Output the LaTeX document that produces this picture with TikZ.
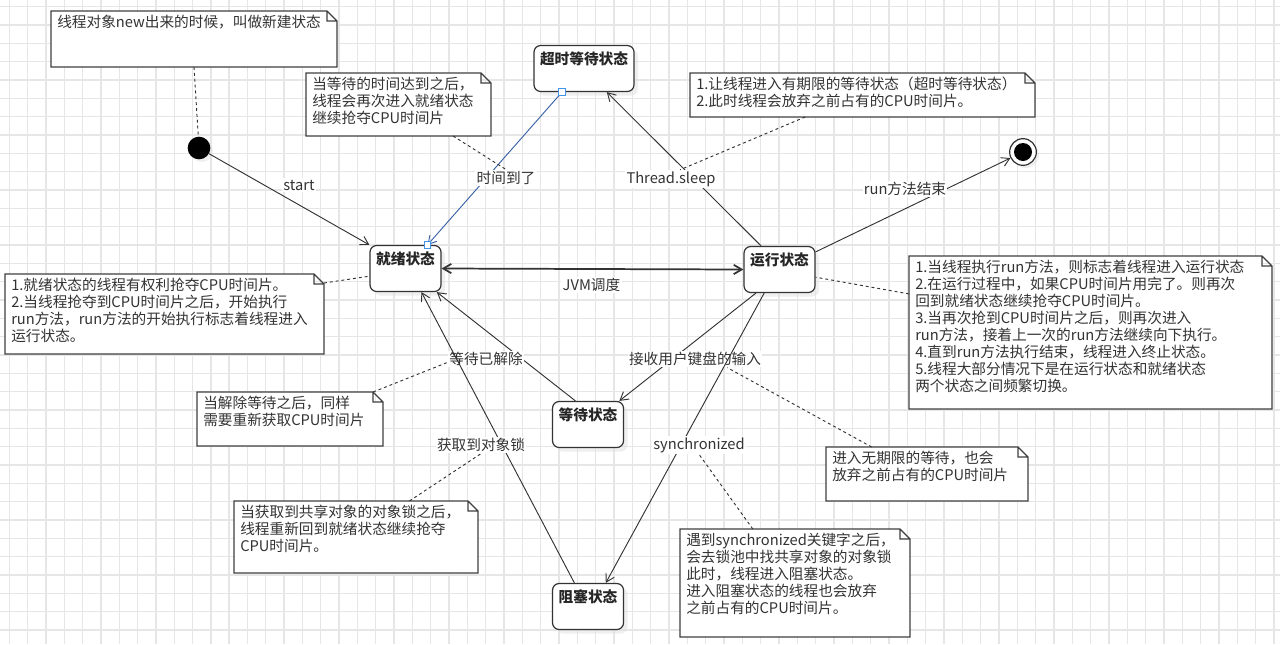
\documentclass[tikz,border=0pt]{standalone}
\usepackage{fontspec}
\setmainfont{Noto Sans CJK SC}
\usetikzlibrary{arrows.meta,fit,backgrounds,shadows}

\definecolor{gridgray}{RGB}{230,230,230}
\definecolor{linegray}{RGB}{51,51,51}
\definecolor{pickblue}{RGB}{58,98,168}
\definecolor{handleblue}{RGB}{66,148,235}

\tikzset{
  gridline/.style={draw=gridgray, line width=1pt},
  state/.style={draw=linegray, line width=0.9pt, rounded corners=5pt, fill=white, text=black!85,
    minimum width=53.25pt, inner sep=3pt, text height=11.25pt, text depth=17.25pt,
    font=\fontsize{11}{13}\selectfont\bfseries,
    drop shadow={shadow xshift=3pt, shadow yshift=-3pt, fill=black!12}},
  startstate/.style={circle, fill=black, minimum size=17pt, inner sep=0pt,
    drop shadow={shadow xshift=2pt, shadow yshift=-2pt, fill=black!12}},
  endstate/.style={circle, draw=linegray, line width=0.9pt, fill=white, minimum size=20pt, inner sep=0pt,
    drop shadow={shadow xshift=2pt, shadow yshift=-2pt, fill=black!12}},
  trans/.style={draw=linegray, line width=0.7pt, ->},
  lbl/.style={fill=white, inner sep=1pt, text=black!80, font=\fontsize{11}{12.75}\selectfont},
  notebox/.style={inner sep=0pt, outer sep=0pt},
  noteline/.style={draw=black!75, line width=0.9pt, fill=white},
  notetext/.style={anchor=north west, inner sep=0pt, align=left, text=black!80,
    font=\fontsize{11}{12.75}\selectfont},
  notelink/.style={draw=linegray, line width=0.7pt, dash pattern=on 2.2pt off 2.2pt},
  handle/.style={draw=handleblue, fill=white, line width=0.6pt, minimum size=5pt, inner sep=0pt}
}

\begin{document}
\begin{tikzpicture}[x=0.75pt, y=-0.75pt, >={Straight Barb[length=6pt,width=7pt]}]
  \useasboundingbox (0,0) rectangle (1280,644);

  % states
  \node[state] (ready) at (405.5,268.5) {就绪状态};
  \node[state, minimum width=75pt] (timed) at (584,68.5) {超时等待状态};
  \node[state] (running) at (779.5,269.5) {运行状态};
  \node[state] (waiting) at (588,424.5) {等待状态};
  \node[state] (blocked) at (588,606.5) {阻塞状态};
  \node[startstate] (init) at (199,148) {};
  \node[endstate] (final) at (1023,152) {};
  \node[circle, fill=black, minimum size=13.5pt, inner sep=0pt] (finaldot) at (final) {};

  % transitions
  \draw[trans] (init) -- (ready.north west) node[lbl] (startlbl) at (299,185) {start};
  \draw[trans, draw=pickblue] (timed.-133) -- (ready.47) node[lbl] (timeuplbl) at (506,178) {时间到了};
  \node[handle] (timedhandle) at (timed.-133) {};
  \node[handle] (readyhandle) at (ready.47) {};
  \draw[trans] (running.128) -- (timed.-46) node[lbl] (sleeplbl) at (671,179) {Thread.sleep};
  \draw[trans] (running.26) -- (final) node[lbl] (endlbl) at (905,189) {run方法结束};
  \draw[trans, <->, line width=1.3pt] (ready.east) -- (running.west) node[lbl] (jvmlbl) at (591.5,285) {JVM调度};
  \draw[trans] (waiting.118) -- (ready.-37) node[lbl] (wakelbl) at (486,359) {等待已解除};
  \draw[trans] (blocked.120) -- (ready.-56) node[lbl] (locklbl) at (481,445) {获取到对象锁};
  \draw[trans] (running.-135) -- (waiting.37) node[lbl] (inputlbl) at (695,359) {接收用户键盘的输入};
  \draw[trans] (running.-123) -- (blocked.53) node[lbl] (synclbl) at (699,445) {synchronized};

  % notes
  \node[notebox, fit={(51,11) (337,67)}] (newnote) {};
  \node[notetext] (newtext) at ([xshift=4.5pt,yshift=-3pt]newnote.north west) {线程对象new出来的时候，叫做新建状态};
  \node[notebox, fit={(306,73) (491,136)}] (timeupnote) {};
  \node[notetext] (timeuptext) at ([xshift=4.5pt,yshift=-3pt]timeupnote.north west)
    {当等待的时间达到之后，\\线程会再次进入就绪状态\\继续抢夺CPU时间片};
  \node[notebox, fit={(690,73) (1035,117)}] (sleepnote) {};
  \node[notetext] (sleeptext) at ([xshift=4.5pt,yshift=-3pt]sleepnote.north west)
    {1.让线程进入有期限的等待状态（超时等待状态）\\2.此时线程会放弃之前占有的CPU时间片。};
  \node[notebox, fit={(5,274) (324,354)}] (readynote) {};
  \node[notetext] (readytext) at ([xshift=4.5pt,yshift=-3pt]readynote.north west)
    {1.就绪状态的线程有权利抢夺CPU时间片。\\2.当线程抢夺到CPU时间片之后，开始执行\\run方法，run方法的开始执行标志着线程进入\\运行状态。};
  \node[notebox, fit={(909,256) (1272,409)}] (runnote) {};
  \node[notetext] (runtext) at ([xshift=4.5pt,yshift=-3pt]runnote.north west)
    {1.当线程执行run方法，则标志着线程进入运行状态\\2.在运行过程中，如果CPU时间片用完了。则再次\\回到就绪状态继续抢夺CPU时间片。\\3.当再次抢到CPU时间片之后，则再次进入\\run方法，接着上一次的run方法继续向下执行。\\4.直到run方法执行结束，线程进入终止状态。\\5.线程大部分情况下是在运行状态和就绪状态\\两个状态之间频繁切换。};
  \node[notebox, fit={(197,392) (383,446)}] (wakenote) {};
  \node[notetext] (waketext) at ([xshift=4.5pt,yshift=-3pt]wakenote.north west)
    {当解除等待之后，同样\\需要重新获取CPU时间片};
  \node[notebox, fit={(234,501) (478,573)}] (locknote) {};
  \node[notetext] (locktext) at ([xshift=4.5pt,yshift=-3pt]locknote.north west)
    {当获取到共享对象的对象锁之后，\\线程重新回到就绪状态继续抢夺\\CPU时间片。};
  \node[notebox, fit={(826,447) (1028,501)}] (inputnote) {};
  \node[notetext] (inputtext) at ([xshift=4.5pt,yshift=-3pt]inputnote.north west)
    {进入无期限的等待，也会\\放弃之前占有的CPU时间片};
  \node[notebox, fit={(680,529) (910,637)}] (syncnote) {};
  \node[notetext] (synctext) at ([xshift=4.5pt,yshift=-3pt]syncnote.north west)
    {遇到synchronized关键字之后，\\会去锁池中找共享对象的对象锁\\此时，线程进入阻塞状态。\\进入阻塞状态的线程也会放弃\\之前占有的CPU时间片。};

  % note links
  \draw[notelink] (newnote.south) -- (init);
  \draw[notelink] (timeupnote.-30.5) -- (timeuplbl.north);
  \draw[notelink] (sleepnote.-159) -- (sleeplbl.45);
  \draw[notelink] (readynote.11) -- (ready.-168);
  \draw[notelink] (runnote.168) -- (running.-12);
  \draw[notelink] (wakenote.18) -- (wakelbl.-175);
  \draw[notelink] (locknote.34) -- (locklbl.south);
  \draw[notelink] (inputnote.154) -- (inputlbl.-15);
  \draw[notelink] (syncnote.128) -- (synclbl.south);

  \begin{scope}[on background layer]
    \fill[white] (0,0) rectangle (1280,644);
    \foreach \i in {0,...,69} \draw[gridline] ({9.2+18.33*\i},0) -- ({9.2+18.33*\i},644);
    \foreach \j in {0,...,34} \draw[gridline] (0,{6.7+18.33*\j}) -- (1280,{6.7+18.33*\j});
    \foreach \nn in {newnote,timeupnote,sleepnote,readynote,runnote,wakenote,locknote,inputnote,syncnote}
      \filldraw[noteline] (\nn.north west) -- ([xshift=-7.5pt]\nn.north east) -- ([yshift=-7.5pt]\nn.north east)
        -- (\nn.south east) -- (\nn.south west) -- cycle
        ([xshift=-7.5pt]\nn.north east) |- ([yshift=-7.5pt]\nn.north east);
  \end{scope}
\end{tikzpicture}
\end{document}
